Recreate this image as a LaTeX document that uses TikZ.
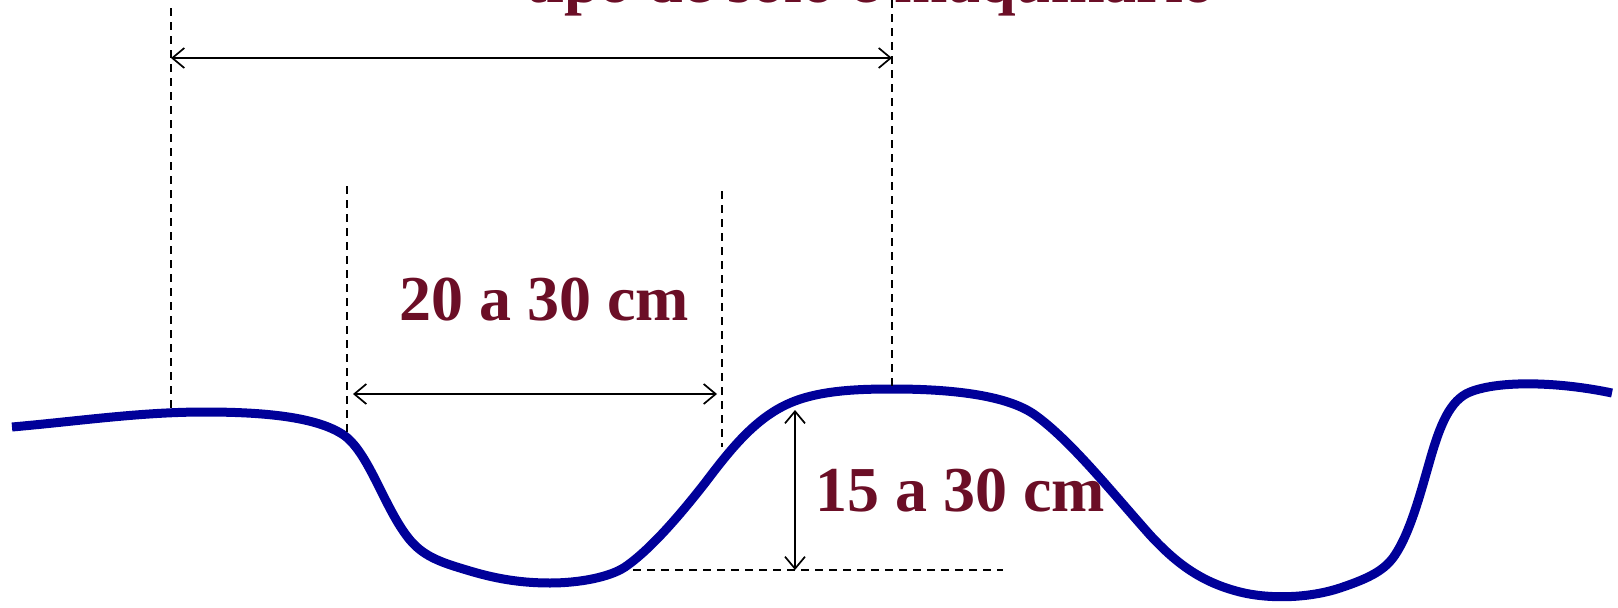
\documentclass[tikz,border=0pt]{standalone}
\usepackage{fontspec}
\setmainfont{Liberation Serif}
\usetikzlibrary{arrows.meta}
\definecolor{soil}{RGB}{0,0,153}
\definecolor{lbl}{RGB}{107,14,38}
\begin{document}
\begin{tikzpicture}[x=1pt,y=-1pt,
  dim/.style={line width=1.7pt, {Straight Barb[length=12pt,width=20pt]}-{Straight Barb[length=12pt,width=20pt]}},
  guide/.style={line width=1.6pt, dash pattern=on 8pt off 6pt},
  lab/.style={text=lbl, font=\fontsize{64}{70}\selectfont\bfseries, inner sep=0pt},
  ground/.style={soil, line width=9pt}]
\useasboundingbox (0,0) rectangle (1618,608);
% ground profile
\draw[ground] (12,427) .. controls (80,421) and (140,412) .. (205,412)
  .. controls (270,412) and (320,418) .. (345,436)
  .. controls (370,455) and (385,510) .. (410,540)
  .. controls (425,558) and (445,563.5) .. (470,571)
  .. controls (500,580) and (525,583) .. (550,583)
  .. controls (580,583) and (610,577) .. (625,567)
  .. controls (650,550) and (680,515) .. (705,483)
  .. controls (730,450) and (755,418) .. (790,403)
  .. controls (820,390) and (860,389) .. (893,389)
  .. controls (960,389) and (1010,397) .. (1035,415)
  .. controls (1070,440) and (1110,490) .. (1150,535)
  .. controls (1175,562) and (1200,582) .. (1240,592)
  .. controls (1270,599.5) and (1310,598) .. (1340,588)
  .. controls (1370,578) and (1385,570) .. (1395,555)
  .. controls (1410,532.5) and (1420,495) .. (1430,460)
  .. controls (1440,425) and (1450,400) .. (1470,392)
  .. controls (1500,380) and (1560,382) .. (1612,393);
% guide points
\coordinate (g1t) at (171,8);   \coordinate (g1b) at (171,411);
\coordinate (g2t) at (347,186); \coordinate (g2b) at (347,437);
\coordinate (g3t) at (722,191); \coordinate (g3b) at (722,447);
\coordinate (g4t) at (892,0);   \coordinate (g4b) at (892,388);
\coordinate (hL) at (633,570);  \coordinate (hR) at (1003,570);
\draw[guide] (g1t) -- (g1b);
\draw[guide] (g2t) -- (g2b);
\draw[guide] (g3t) -- (g3b);
\draw[guide] (g4t) -- (g4b);
\draw[guide] (hL) -- (hR);
% dimension arrows
\coordinate (a1L) at (171,58);  \coordinate (a1R) at (892,58);
\coordinate (a2L) at (353,394); \coordinate (a2R) at (717,394);
\coordinate (a3T) at (795,410); \coordinate (a3B) at (795,570);
\draw[dim] (a1L) -- (a1R);
\draw[dim] (a2L) -- (a2R);
\draw[dim] (a3T) -- (a3B);
% labels
\node[lab, anchor=base] (title) at (870,2) {tipo de solo e maquinário};
\node[lab] (width) at (544,300) {20 a 30 cm};
\node[lab] (depth) at (960,491) {15 a 30 cm};
\end{tikzpicture}
\end{document}
